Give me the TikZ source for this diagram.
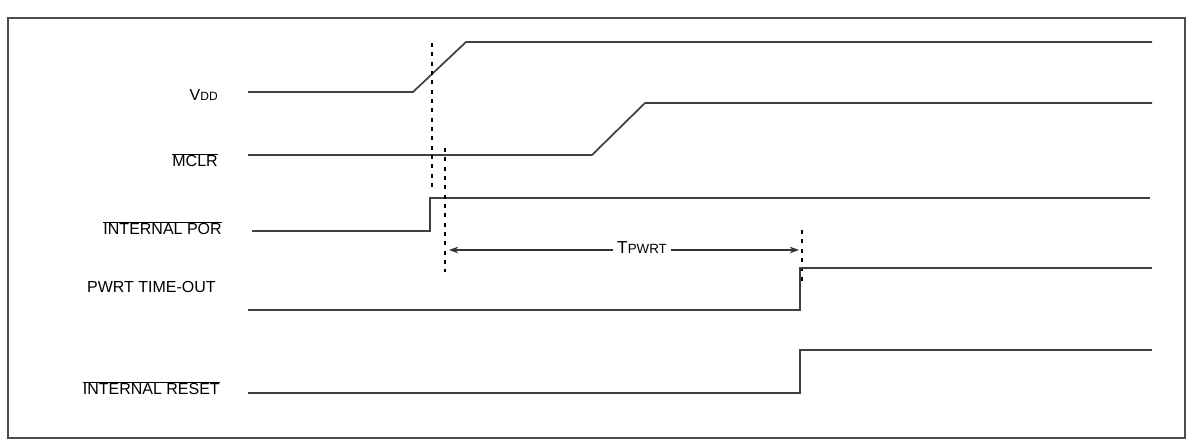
\documentclass[tikz,border=0pt]{standalone}
\usepackage{fontspec}
\setmainfont{Liberation Sans}
\usetikzlibrary{arrows.meta}
\begin{document}
\begin{tikzpicture}[x=0.75pt,y=-0.75pt,
  sig/.style={draw=black!75,line width=1.3pt},
  lab/.style={anchor=east,inner sep=0pt,font=\fontsize{12}{14}\selectfont},
  dsh/.style={draw=black,line width=1pt,dash pattern=on 3pt off 4pt}]
\useasboundingbox (0,0) rectangle (1193,443);
\draw[black!70,line width=1.2pt] (8,18) rectangle (1185,438);
% VDD
\node[lab] (lvdd) at (218,95) {V{\fontsize{9}{10}\selectfont DD}};
\coordinate (v0) at (248,92); \coordinate (v1) at (413,92); \coordinate (v2) at (466,42); \coordinate (v3) at (1152,42);
\draw[sig] (v0)--(v1)--(v2)--(v3);
% MCLR
\node[lab] (lm) at (218,160) {$\overline{\mbox{MCLR}}$};
\coordinate (m0) at (248,155); \coordinate (m1) at (592,155); \coordinate (m2) at (645,103); \coordinate (m3) at (1152,103);
\draw[sig] (m0)--(m1)--(m2)--(m3);
% POR
\node[lab] (lp) at (222,228) {$\overline{\mbox{INTERNAL POR}}$};
\coordinate (p0) at (252,231); \coordinate (p1) at (430,231); \coordinate (p2) at (430,198); \coordinate (p3) at (1150,198);
\draw[sig] (p0)--(p1)--(p2)--(p3);
% dashed
\coordinate (d1a) at (432,43); \coordinate (d1b) at (432,192);
\coordinate (d2a) at (445,148); \coordinate (d2b) at (445,272);
\coordinate (d3a) at (802,230); \coordinate (d3b) at (802,286);
\draw[dsh] (d1a)--(d1b); \draw[dsh] (d2a)--(d2b); \draw[dsh] (d3a)--(d3b);
% TPWRT
\node[inner sep=3pt,font=\fontsize{13}{15}\selectfont] (tp) at (642,248) {T{\fontsize{10}{12}\selectfont PWRT}};
\coordinate (a0) at (449,250); \coordinate (a1) at (799,250);
\draw[black!80,line width=1pt,-{Stealth[length=7pt,width=5pt]}] (tp.west|-a0)--(a0);
\draw[black!80,line width=1pt,-{Stealth[length=7pt,width=5pt]}] (tp.east|-a1)--(a1);
% PWRT TIME-OUT
\node[lab] (lt) at (216,287) {PWRT TIME-OUT};
\coordinate (t0) at (248,310); \coordinate (t1) at (800,310); \coordinate (t2) at (800,268); \coordinate (t3) at (1152,268);
\draw[sig] (t0)--(t1)--(t2)--(t3);
% INTERNAL RESET
\node[lab] (lr) at (220,388) {$\overline{\mbox{INTERNAL RESET}}$};
\coordinate (r0) at (248,393); \coordinate (r1) at (800,393); \coordinate (r2) at (800,350); \coordinate (r3) at (1152,350);
\draw[sig] (r0)--(r1)--(r2)--(r3);
\end{tikzpicture}
\end{document}
